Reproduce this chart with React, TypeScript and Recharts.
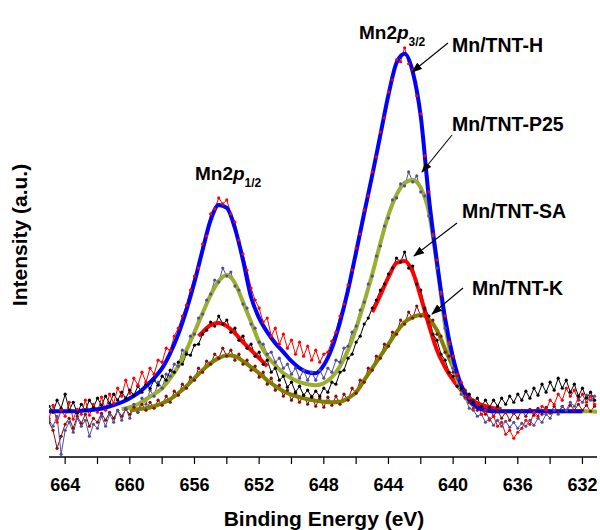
import { ComposedChart, Line, XAxis, YAxis } from "recharts";

// binding energy grid of the measured spectra (eV)
const rawEnergy = [
  665, 664.75, 664.5, 664.25, 664, 663.75, 663.5, 663.25,
  663, 662.75, 662.5, 662.25, 662, 661.75, 661.5, 661.25,
  661, 660.75, 660.5, 660.25, 660, 659.75, 659.5, 659.25,
  659, 658.75, 658.5, 658.25, 658, 657.75, 657.5, 657.25,
  657, 656.75, 656.5, 656.25, 656, 655.75, 655.5, 655.25,
  655, 654.75, 654.5, 654.25, 654, 653.75, 653.5, 653.25,
  653, 652.75, 652.5, 652.25, 652, 651.75, 651.5, 651.25,
  651, 650.75, 650.5, 650.25, 650, 649.75, 649.5, 649.25,
  649, 648.75, 648.5, 648.25, 648, 647.75, 647.5, 647.25,
  647, 646.75, 646.5, 646.25, 646, 645.75, 645.5, 645.25,
  645, 644.75, 644.5, 644.25, 644, 643.75, 643.5, 643.25,
  643, 642.75, 642.5, 642.25, 642, 641.75, 641.5, 641.25,
  641, 640.75, 640.5, 640.25, 640, 639.75, 639.5, 639.25,
  639, 638.75, 638.5, 638.25, 638, 637.75, 637.5, 637.25,
  637, 636.75, 636.5, 636.25, 636, 635.75, 635.5, 635.25,
  635, 634.75, 634.5, 634.25, 634, 633.75, 633.5, 633.25,
  633, 632.75, 632.5, 632.25, 632, 631.75, 631.5, 631.25,
];

// measured intensities (a.u.)
const rawH = [
  22, 35, 18, 30, 24, 38, 21, 31,
  26, 40, 25, 36, 28, 43, 30, 46,
  37, 52, 44, 60, 47, 62, 55, 68,
  58, 72, 66, 80, 78, 92, 90, 104,
  112, 124, 135, 150, 164, 172, 196, 204,
  226, 231, 242, 236, 240, 226, 218, 200,
  186, 170, 152, 140, 132, 118, 122, 104,
  112, 96, 106, 92, 100, 86, 98, 84,
  94, 80, 90, 78, 86, 88, 99, 108,
  124, 136, 155, 170, 192, 206, 230, 244,
  268, 283, 308, 322, 348, 360, 380, 378,
  392, 376, 370, 344, 326, 284, 248, 206,
  180, 146, 124, 98, 84, 66, 58, 44,
  42, 32, 36, 26, 30, 20, 24, 14,
  18, 6, 10, 2, 8, 12, 20, 16,
  28, 24, 34, 30, 40, 36, 46, 40,
  52, 44, 50, 40, 46, 38, 44, 36,
];

const rawSA = [
  34, 28, 40, 32, 46, 30, 38, 27,
  36, 30, 40, 33, 42, 35, 44, 37,
  46, 40, 48, 42, 50, 45, 54, 48,
  56, 52, 60, 55, 64, 60, 70, 68,
  78, 76, 86, 85, 95, 96, 106, 110,
  118, 114, 124, 116, 120, 108, 112, 100,
  104, 92, 96, 84, 88, 76, 80, 68,
  72, 60, 64, 53, 58, 48, 54, 45,
  50, 43, 49, 44, 52, 48, 58, 56,
  68, 70, 82, 86, 98, 104, 116, 122,
  132, 140, 150, 156, 166, 172, 182, 178,
  188, 172, 174, 156, 150, 132, 124, 106,
  100, 86, 80, 68, 64, 54, 52, 44,
  46, 38, 42, 34, 40, 33, 40, 34,
  42, 36, 44, 38, 46, 40, 49, 42,
  52, 45, 56, 48, 58, 50, 62, 52,
  60, 48, 56, 44, 52, 42, 48, 40,
];

const rawP25 = [
  20, 14, 24, -14, 10, 18, 8, 22,
  14, 20, 4, 16, 12, 24, 14, 26,
  18, 30, 20, 32, 22, 36, 28, 42,
  36, 50, 44, 58, 52, 66, 64, 76,
  74, 90, 88, 104, 106, 122, 126, 140,
  146, 160, 158, 172, 164, 168, 154, 150,
  136, 132, 116, 112, 98, 96, 86, 88,
  78, 82, 72, 76, 66, 72, 62, 70,
  60, 68, 60, 70, 62, 72, 68, 80,
  78, 92, 94, 108, 114, 130, 138, 156,
  164, 184, 194, 214, 222, 240, 242, 256,
  254, 268, 258, 264, 248, 244, 224, 204,
  172, 148, 112, 96, 72, 62, 46, 42,
  32, 30, 24, 26, 18, 22, 15, 20,
  14, 19, 13, 18, 12, 17, 14, 20,
  15, 22, 18, 26, 22, 30, 26, 34,
  30, 38, 34, 42, 38, 45, 40, 44,
];

const rawK = [
  18, 10, -8, 4, 16, 22, 12, 24,
  17, 26, 14, 22, 18, 27, 20, 28,
  22, 30, 24, 31, 26, 33, 28, 36,
  30, 38, 32, 40, 35, 44, 38, 49,
  45, 56, 52, 63, 60, 72, 68, 79,
  76, 86, 82, 92, 84, 90, 80, 86,
  76, 80, 70, 74, 63, 68, 56, 62,
  50, 55, 44, 50, 40, 47, 38, 45,
  36, 44, 34, 42, 33, 43, 35, 44,
  36, 46, 40, 52, 47, 60, 58, 72,
  70, 84, 82, 96, 94, 108, 106, 120,
  116, 128, 122, 134, 124, 130, 118, 120,
  106, 104, 88, 84, 68, 64, 50, 50,
  38, 40, 30, 34, 26, 32, 24, 30,
  22, 28, 20, 27, 22, 30, 24, 31,
  25, 32, 26, 33, 27, 34, 28, 34,
  29, 35, 30, 36, 30, 35, 29, 34,
];

// fitted envelopes
const fitEnergyH = [
  665, 664.5, 664, 663.5, 663, 662.5, 662, 661.5, 661, 660.5,
  660, 659.5, 659, 658.5, 658, 657.5, 657, 656.5, 656, 655.5,
  655, 654.5, 654, 653.5, 653, 652.5, 652, 651.5, 651, 650.5,
  650, 649.5, 649, 648.5, 648, 647.5, 647, 646.5, 646, 645.5,
  645, 644.5, 644, 643.5, 643, 642.5, 642, 641.5, 641, 640.5,
  640, 639.5, 639, 638.5, 638, 637.5, 637, 636.5, 636, 635.5,
  635, 634.5, 634, 633.5, 633, 632.5, 632,
];
const fitH = [
  29, 29, 29, 29, 29.5, 30, 31, 32.5, 35, 38,
  42, 47, 54, 62, 72, 87, 106, 130, 158, 190,
  220, 235, 232, 212, 180, 143, 122, 108, 97, 88,
  79, 72, 68, 67, 75, 92, 118, 150, 188, 227,
  265, 305, 345, 377, 386, 368, 323, 242, 178, 122,
  82, 55, 40, 33, 30, 29, 29, 29, 29, 29,
  29, 29, 29, 29, 29, 29, 29,
];

const fitEnergyP25 = [
  660.5, 660, 659.5, 659, 658.5, 658, 657.5, 657, 656.5, 656,
  655.5, 655, 654.5, 654, 653.5, 653, 652.5, 652, 651.5, 651,
  650.5, 650, 649.5, 649, 648.5, 648, 647.5, 647, 646.5, 646,
  645.5, 645, 644.5, 644, 643.5, 643, 642.5, 642, 641.5, 641,
  640.5, 640, 639.5, 639, 638.5, 638, 637.5, 637, 636.5, 636,
  635.5, 635, 634.5, 634, 633.5, 633, 632.5, 632, 631.5, 631.1,
];
const fitP25 = [
  31, 33, 36, 41, 46, 52, 62, 74, 90, 108,
  127, 145, 159, 165, 157, 138, 118, 98, 84, 75,
  67, 62, 58, 56, 55, 57, 63, 74, 90, 112,
  138, 166, 197, 225, 245, 257, 260, 252, 228, 175,
  115, 75, 50, 38, 32, 30, 29, 29, 29, 29,
  29, 29, 29, 29, 29, 29, 29, 29, 29, 28.5,
];

const fitEnergySA1 = [655.75, 655.5, 655, 654.5, 654, 653.5, 653, 652.5, 652, 651.5];
const fitSA1 = [104, 108, 115, 117, 114, 107, 98, 90, 82, 74];
const fitEnergySA2 = [
  645, 644.5, 644, 643.5, 643, 642.5, 642, 641.5, 641, 640.5,
  640, 639.5, 639, 638.5, 638, 637.5, 637,
];
const fitSA2 = [128, 145, 163, 177, 179, 168, 143, 115, 90, 73, 60, 50, 42, 37, 34, 32, 31];

const fitEnergyK = [
  660, 659.5, 659, 658.5, 658, 657.5, 657, 656.5, 656, 655.5,
  655, 654.5, 654, 653.5, 653, 652.5, 652, 651.5, 651, 650.5,
  650, 649.5, 649, 648.5, 648, 647.5, 647, 646.5, 646, 645.5,
  645, 644.5, 644, 643.5, 643, 642.5, 642, 641.5, 641, 640.5,
  640, 639.5, 639, 638.5, 638, 637.5, 637,
];
const fitK = [
  29.5, 31, 32, 34, 37, 41, 47, 54, 62, 70,
  77, 82, 85, 84, 79, 73, 67, 60, 54, 49,
  45.5, 43, 41, 39.5, 38.5, 38, 38.5, 42, 48, 60,
  72, 84, 96, 108, 118, 123, 125, 121, 110, 91,
  73, 54, 42, 35, 31, 29.5, 29,
];

const xTicks = [632, 634, 636, 638, 640, 642, 644, 646, 648, 650, 652, 654, 656, 658, 660, 662, 664];
const yStep = 28.45;
const yTicksLeft = Array.from({ length: 16 }, (_, k) => k * yStep);
const yTicksRight = Array.from({ length: 7 }, (_, k) => (2 * k + 1) * yStep);

const zip = (xs: number[], ys: number[]) => xs.map((e, i) => ({ e, v: ys[i] }));

const FONT = '"Liberation Sans", Arial, sans-serif';

const rawSeries = [
  { name: "K", data: zip(rawEnergy, rawK), color: "#8b0a0a" },
  { name: "P25", data: zip(rawEnergy, rawP25), color: "#4f4fa0" },
  { name: "SA", data: zip(rawEnergy, rawSA), color: "#000000" },
  { name: "H", data: zip(rawEnergy, rawH), color: "#ff0000" },
];

const fitSeries = [
  { name: "fitK", data: zip(fitEnergyK, fitK), color: "#808000" },
  { name: "fitSA1", data: zip(fitEnergySA1, fitSA1), color: "#ff0000" },
  { name: "fitSA2", data: zip(fitEnergySA2, fitSA2), color: "#ff0000" },
  { name: "fitP25", data: zip(fitEnergyP25, fitP25), color: "#9cae2e" },
  { name: "fitH", data: zip(fitEnergyH, fitH), color: "#0000ff" },
];

const axisLine = { stroke: "#000", strokeWidth: 1.6 };
const tickLine = { stroke: "#000", strokeWidth: 1.2 };

export default function App() {
  return (
    <div style={{ position: "absolute", left: 0, top: 0, width: 600, height: 530, background: "#fff" }}>
      <ComposedChart width={600} height={530} margin={{ top: 13, right: 3, bottom: 0, left: 49 }}>
        <XAxis
          xAxisId="b"
          dataKey="e"
          type="number"
          domain={[631.1, 665]}
          allowDataOverflow
          reversed
          ticks={xTicks}
          interval={0}
          tickFormatter={(v: number) => (v % 4 === 0 ? String(v) : "")}
          height={73}
          tickSize={7}
          tickMargin={14}
          axisLine={axisLine}
          tickLine={tickLine}
          tick={{ fontSize: 18, fontWeight: "bold", fill: "#000", fontFamily: FONT }}
        />
        <XAxis
          xAxisId="t"
          orientation="top"
          dataKey="e"
          type="number"
          domain={[631.1, 665]}
          allowDataOverflow
          reversed
          ticks={xTicks}
          interval={0}
          height={0}
          mirror
          tickSize={3}
          tick={false}
          axisLine={axisLine}
          tickLine={tickLine}
        />
        <YAxis
          yAxisId="l"
          type="number"
          domain={[-16.7, 426.7]}
          allowDataOverflow
          ticks={yTicksLeft}
          interval={0}
          width={0}
          mirror
          tickSize={3}
          tick={false}
          axisLine={axisLine}
          tickLine={tickLine}
        />
        <YAxis
          yAxisId="r"
          orientation="right"
          type="number"
          domain={[-16.7, 426.7]}
          allowDataOverflow
          ticks={yTicksRight}
          interval={0}
          width={0}
          mirror
          tickSize={3}
          tick={false}
          axisLine={axisLine}
          tickLine={tickLine}
        />
        {rawSeries.map((s) => (
          <Line
            key={s.name}
            data={s.data}
            dataKey="v"
            xAxisId="b"
            yAxisId="l"
            type="linear"
            stroke={s.color}
            strokeWidth={1}
            dot={{ r: 1.6, fill: s.color, stroke: s.color, strokeWidth: 0 }}
            isAnimationActive={false}
          />
        ))}
        {fitSeries.map((s) => (
          <Line
            key={s.name}
            data={s.data}
            dataKey="v"
            xAxisId="b"
            yAxisId="l"
            type="monotone"
            stroke={s.color}
            strokeWidth={4}
            dot={false}
            isAnimationActive={false}
          />
        ))}
      </ComposedChart>
      <svg
        width={600}
        height={530}
        style={{ position: "absolute", left: 0, top: 0, pointerEvents: "none" }}
        fontFamily={FONT}
        fontWeight="bold"
      >
        <defs>
          <marker id="ah" markerWidth={11} markerHeight={8} refX={10} refY={4} orient="auto" markerUnits="userSpaceOnUse">
            <path d="M0,0 L11,4 L0,8 z" fill="#000" />
          </marker>
        </defs>
        <text x={195} y={180} fontSize={19}>
          Mn2<tspan fontStyle="italic">p</tspan>
          <tspan fontSize={12} dy={7}>1/2</tspan>
        </text>
        <text x={359} y={39} fontSize={19}>
          Mn2<tspan fontStyle="italic">p</tspan>
          <tspan fontSize={12} dy={7}>3/2</tspan>
        </text>
        <text x={452} y={52} fontSize={19.5}>Mn/TNT-H</text>
        <text x={452} y={131} fontSize={19.5}>Mn/TNT-P25</text>
        <text x={462} y={218} fontSize={19.5}>Mn/TNT-SA</text>
        <text x={472} y={295} fontSize={19.5}>Mn/TNT-K</text>
        <g stroke="#000" strokeWidth={1.1}>
          <line x1={448} y1={43} x2={412} y2={72} markerEnd="url(#ah)" />
          <line x1={452} y1={135} x2={422} y2={172} markerEnd="url(#ah)" />
          <line x1={457} y1={223} x2={414} y2={256} markerEnd="url(#ah)" />
          <line x1={463} y1={288} x2={432} y2={314} markerEnd="url(#ah)" />
        </g>
        <text x={324} y={526} fontSize={21} textAnchor="middle">Binding Energy (eV)</text>
        <text x={0} y={0} fontSize={21} textAnchor="middle" transform="translate(27 235) rotate(-90)">
          Intensity (a.u.)
        </text>
      </svg>
    </div>
  );
}
